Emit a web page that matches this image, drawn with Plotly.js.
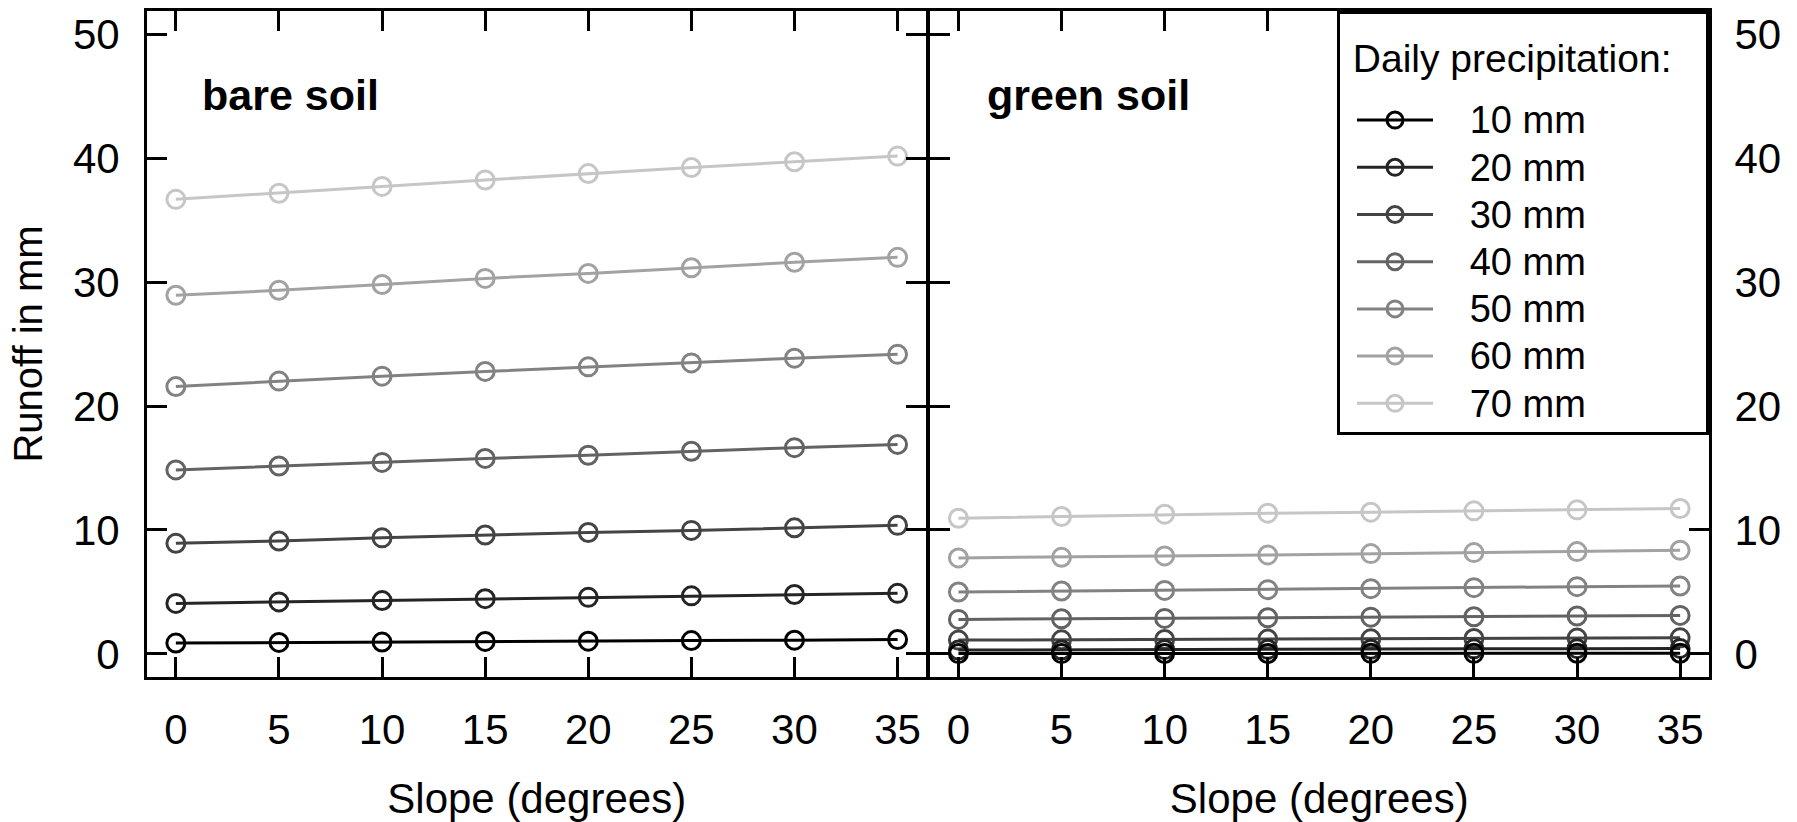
<!DOCTYPE html>
<html><head><meta charset="utf-8">
<script src="https://cdn.plot.ly/plotly-3.0.1.min.js"></script>
<style>html,body{margin:0;padding:0;background:#fff}#chart{width:1797px;height:822px}</style>
</head><body><div id="chart"></div>
<script>
// Data
const slopeDeg = [0, 5, 10, 15, 20, 25, 30, 35];
const precipLabels = ["10 mm", "20 mm", "30 mm", "40 mm", "50 mm", "60 mm", "70 mm"];
const precipRank = [10, 20, 30, 40, 50, 60, 70];
const yTickVals = [0, 10, 20, 30, 40, 50];
const panelLabels = ["bare soil", "green soil"];
const legendTitle = "Daily precipitation:";

// Runoff (mm), bare soil
const bare10 = [0.87, 0.92, 0.95, 1.00, 1.02, 1.07, 1.10, 1.16];
const bare20 = [4.07, 4.19, 4.30, 4.45, 4.56, 4.68, 4.79, 4.88];
const bare30 = [8.92, 9.10, 9.36, 9.59, 9.79, 9.96, 10.17, 10.37];
const bare40 = [14.84, 15.16, 15.45, 15.77, 16.03, 16.35, 16.64, 16.90];
const bare50 = [21.57, 22.01, 22.41, 22.79, 23.16, 23.48, 23.86, 24.17];
const bare60 = [28.94, 29.34, 29.81, 30.30, 30.70, 31.16, 31.60, 32.00];
const bare70 = [36.68, 37.17, 37.72, 38.24, 38.76, 39.25, 39.71, 40.17];

// Runoff (mm), green soil
const green10 = [0.02, 0.02, 0.03, 0.03, 0.04, 0.04, 0.05, 0.05];
const green20 = [0.30, 0.31, 0.34, 0.36, 0.37, 0.40, 0.42, 0.44];
const green30 = [1.11, 1.13, 1.16, 1.19, 1.21, 1.24, 1.27, 1.29];
const green40 = [2.78, 2.83, 2.86, 2.91, 2.96, 2.99, 3.05, 3.10];
const green50 = [4.99, 5.07, 5.12, 5.18, 5.26, 5.34, 5.42, 5.47];
const green60 = [7.74, 7.79, 7.90, 7.98, 8.09, 8.17, 8.25, 8.36];
const green70 = [10.94, 11.08, 11.27, 11.35, 11.43, 11.54, 11.62, 11.73];

// Styles
const lineColors = ["#000000", "#252525", "#444444", "#636363", "#828282", "#a2a2a2", "#c6c6c6"];
const FONT = "Liberation Sans, Arial, Helvetica, sans-serif";

const bareSeries = [bare10, bare20, bare30, bare40, bare50, bare60, bare70];
const greenSeries = [green10, green20, green30, green40, green50, green60, green70];

const traces = [];
function addTraces(seriesList, xa, ya, showLeg) {
  // draw lightest first so the darkest lines end up on top
  for (let i = seriesList.length - 1; i >= 0; i--) {
    traces.push({
      type: "scatter", mode: "lines+markers",
      x: slopeDeg, y: seriesList[i],
      xaxis: xa, yaxis: ya,
      name: '<span style="font-size:38px">&nbsp;&nbsp;&nbsp;' + precipLabels[i] + '</span>',
      legendrank: precipRank[i],
      showlegend: showLeg,
      line: {color: lineColors[i], width: 3},
      marker: {symbol: "circle-open", size: 18, color: lineColors[i], line: {width: 3, color: lineColors[i]}},
      hoverinfo: "skip"
    });
  }
}
addTraces(bareSeries, "x", "y", true);
addTraces(greenSeries, "x2", "y2", false);

const axisCommon = {
  showline: true, linecolor: "#000", linewidth: 3, mirror: "ticks",
  ticks: "inside", ticklen: 20, tickwidth: 3, tickcolor: "#000",
  showgrid: false, zeroline: false, fixedrange: true,
  tickfont: {family: FONT, size: 42, color: "#000"}
};
const xRange = [-1.4, 36.4];
const yRange = [-1.87, 51.88];

const layout = {
  width: 1797, height: 822,
  margin: {l: 147, r: 88, t: 11, b: 145, pad: 0},
  paper_bgcolor: "#fff", plot_bgcolor: "#fff",
  font: {family: FONT, color: "#000"},
  showlegend: true,
  xaxis: Object.assign({}, axisCommon, {domain: [0, 0.499], range: xRange, tickvals: slopeDeg, anchor: "y",
    ticklabelstandoff: 14,
    title: {text: "Slope (degrees)", font: {family: FONT, size: 42, color: "#000"}, standoff: 32}}),
  xaxis2: Object.assign({}, axisCommon, {domain: [0.501, 1], range: xRange, tickvals: slopeDeg, anchor: "y2",
    ticklabelstandoff: 14,
    title: {text: "Slope (degrees)", font: {family: FONT, size: 42, color: "#000"}, standoff: 32}}),
  yaxis: Object.assign({}, axisCommon, {domain: [0, 1], range: yRange, tickvals: yTickVals, anchor: "x",
    ticklabelstandoff: 16,
    title: {text: "Runoff in mm", font: {family: FONT, size: 40, color: "#000"}, standoff: 18}}),
  yaxis2: Object.assign({}, axisCommon, {domain: [0, 1], range: yRange, tickvals: yTickVals, anchor: "x2", side: "right",
    ticklabelstandoff: 14}),
  legend: {
    x: 1, xanchor: "right", y: 1, yanchor: "top", xref: "paper", yref: "paper",
    bordercolor: "#000", borderwidth: 3, bgcolor: "#fff",
    font: {family: FONT, size: 34, color: "#000"},
    title: {text: '&nbsp;<br>&nbsp;<br><span style="font-size:39px">&nbsp;' + legendTitle + '&nbsp;&nbsp;&nbsp;</span><br>&nbsp;',
            font: {family: FONT, size: 14.9, color: "#000"}},
    itemwidth: 76, indentation: 12, tracegroupgap: 0
  },
  annotations: [
    {xref: "x", yref: "y", x: 1.15, y: 45.1, xanchor: "left", yanchor: "middle", showarrow: false,
     text: "<b>" + panelLabels[0] + "</b>", font: {family: FONT, size: 43, color: "#000"}},
    {xref: "x2", yref: "y2", x: 1.28, y: 45.1, xanchor: "left", yanchor: "middle", showarrow: false,
     text: "<b>" + panelLabels[1] + "</b>", font: {family: FONT, size: 43, color: "#000"}}
  ]
};

Plotly.newPlot("chart", traces, layout, {displayModeBar: false, staticPlot: true});
</script>
</body></html>
